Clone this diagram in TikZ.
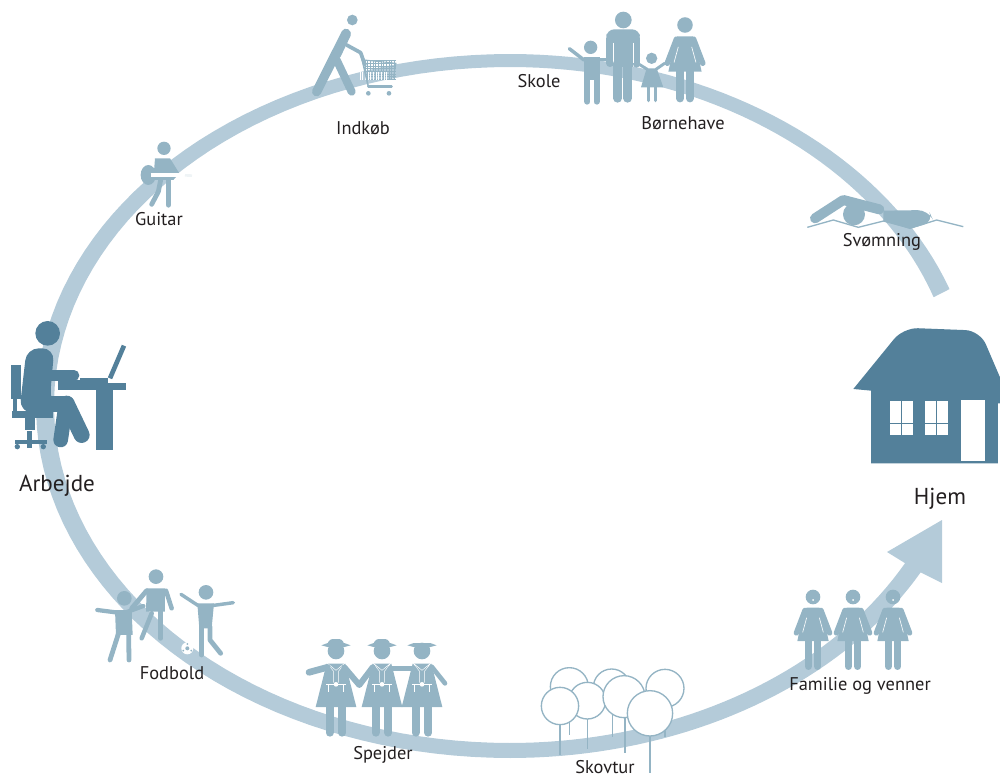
\documentclass[tikz,border=0pt]{standalone}
\usepackage{fontspec}
\setmainfont{PT Sans}
\usetikzlibrary{positioning}
\definecolor{ringblue}{HTML}{B4CBD9}
\definecolor{figureblue}{HTML}{94B4C4}
\definecolor{darkblue}{HTML}{53809A}
\definecolor{labelgray}{HTML}{231F20}
\tikzstyle{activity_label}=[text=labelgray,font=\fontsize{13.8}{15}\selectfont,inner sep=0pt]
\tikzstyle{place_label}=[text=labelgray,font=\fontsize{17.3}{19}\selectfont,inner sep=0pt]
\tikzstyle{figure_limb}=[draw=figureblue,line cap=round,line join=round]
\tikzstyle{dark_limb}=[draw=darkblue,line cap=round,line join=round]
\tikzstyle{tree_top}=[draw=figureblue,fill=white,line width=1pt]
\tikzstyle{tree_trunk}=[draw=figureblue,line width=1.1pt]

% head at (#1,#2), #3 scales the figure
\newcommand{\womanfig}[3]{
    \begin{scope}[shift={(#1,#2)},scale=#3*0.3333]
        \fill[figureblue] (0,0) circle (22);
        \fill[figureblue] (-47,132) [rounded corners=2pt] -- (-26,32) -- (26,32) [sharp corners] -- (47,132) -- cycle;
        \draw[figure_limb,line width=#3*4pt] (-24,40) -- (-50,108);
        \draw[figure_limb,line width=#3*4pt] (24,40) -- (50,108);
        \draw[white,line width=#3*.45pt] (-19,62) -- (-31,106);
        \draw[white,line width=#3*.45pt] (19,62) -- (31,106);
        \draw[figure_limb,line width=#3*5.5pt] (-14,132) -- (-14,208);
        \draw[figure_limb,line width=#3*5.5pt] (14,132) -- (14,208);
    \end{scope}
}
% head at (#1,#2)
\newcommand{\scoutfig}[2]{
    \begin{scope}[shift={(#1,#2)},scale=0.3333]
        \fill[figureblue] (0,0) circle (25);
        \fill[figureblue] (-44,-17) -- (-25,-24) -- (25,-24) -- (44,-17) -- (25,-12) -- (-25,-12) -- cycle;
        \fill[figureblue] (-28,38) -- (28,38) -- (61,168) -- (-61,168) -- cycle;
        \draw[figure_limb,line width=6pt] (-19,168) -- (-19,245);
        \draw[figure_limb,line width=6pt] (19,168) -- (19,245);
        \draw[white,line width=.35pt] (-27,36) -- (-8,60) -- (-8,95) (27,36) -- (8,60) -- (8,95) (-27,36) -- (0,58) -- (27,36);
        \draw[white,line width=.45pt] (-30,100) -- (30,100) (-22,100) -- (-22,122) (22,100) -- (22,122);
        \fill[white] (0,100) circle (7);
    \end{scope}
}

\begin{document}
\begin{tikzpicture}[x=.75pt,y=-.75pt]

    \useasboundingbox (0,0) rectangle (1000,778);

    % Ring with arrow head
    \fill[ringblue] plot[domain=19.4:90,samples=40] ({510+466*cos(\x)},{406-352*sin(\x)})
        -- plot[domain=90:270,samples=80] ({510+474*cos(\x)},{406-352*sin(\x)})
        -- plot[domain=270:331.8,samples=40] ({510+466*cos(\x)},{406-352*sin(\x)})
        -- (942,583) -- (942,520) -- (887,552)
        -- plot[domain=332.1:270,samples=40] ({510+447*cos(\x)},{405-338*sin(\x)})
        -- plot[domain=270:90,samples=80] ({510+456*cos(\x)},{405-338*sin(\x)})
        -- plot[domain=90:18.6,samples=40] ({510+447*cos(\x)},{405-338*sin(\x)})
        -- cycle;

    % Arbejde
    \begin{scope}[shift={(0,300)},scale=0.3333]
        \fill[darkblue] (143,100) circle (37);
        \fill[darkblue] (33,195) rectangle (63,297);
        \fill[darkblue] (40,297) rectangle (52,335);
        \fill[darkblue] (37,333) rectangle (158,353);
        \fill[darkblue] (75,353) rectangle (105,390);
        \fill[darkblue] (82,393) rectangle (96,443);
        \fill[darkblue] (45,420) rectangle (140,432);
        \fill[darkblue] (52,440) circle (8);
        \fill[darkblue] (130,440) circle (8);
        \fill[darkblue,rounded corners=9pt] (58,335) -- (80,145) -- (163,145) -- (150,290) -- (160,335) -- cycle;
        \draw[dark_limb,line width=8pt] (145,226) -- (222,226);
        \fill[darkblue] (175,240) rectangle (240,250);
        \draw[dark_limb,line width=12pt] (90,311) -- (200,311);
        \draw[dark_limb,line width=12pt] (200,311) -- (245,405);
        \draw[dark_limb,line width=11pt] (195,330) -- (182,420);
        \fill[darkblue] (175,250) rectangle (378,270);
        \fill[darkblue] (240,235) rectangle (325,250);
        \fill[darkblue] (288,270) rectangle (339,450);
        \draw[darkblue,line width=3.5pt] (330,235) -- (372,137);
    \end{scope}

    % Hjem
    \begin{scope}[shift={(790,180)},scale=0.3333]
        \fill[darkblue] (190,627) [rounded corners=11pt] -- (340,443) -- (570,452) [sharp corners] -- (640,615) -- (640,670) -- (624,670) -- (624,850) -- (243,850) -- (243,632) -- cycle;
        \fill[white] (300,663) rectangle (369,765);
        \fill[white] (405,663) rectangle (474,765);
        \fill[white] (513,660) rectangle (585,843);
        \draw[darkblue,line width=1pt] (334,663) -- (334,765) (300,730) -- (369,730);
        \draw[darkblue,line width=1pt] (439,663) -- (439,765) (405,730) -- (474,730);
    \end{scope}

    % Family
    \begin{scope}[shift={(500,0)},scale=0.3333]
        % boy
        \fill[figureblue] (272,142) circle (20);
        \fill[figureblue] (252,172) rectangle (300,240);
        \draw[figure_limb,line width=2.6pt] (208,146) -- (252,180);
        \draw[figure_limb,line width=2.6pt] (295,178) -- (325,178);
        \draw[figure_limb,line width=4.5pt] (262,240) -- (262,305);
        \draw[figure_limb,line width=4.5pt] (290,240) -- (290,305);
        % man
        \fill[figureblue] (370,60) circle (25);
        \fill[figureblue,rounded corners=6pt] (319,88) rectangle (420,125);
        \fill[figureblue] (340,110) rectangle (400,200);
        \draw[figure_limb,line width=5.5pt] (330,115) -- (330,190);
        \draw[figure_limb,line width=5.5pt] (409,115) -- (409,192);
        \draw[white,line width=.4pt] (340,128) -- (340,190) (399,128) -- (399,190);
        \draw[figure_limb,line width=6.5pt] (353,190) -- (353,295);
        \draw[figure_limb,line width=6.5pt] (383,190) -- (383,295);
        % girl
        \fill[figureblue] (455,175) circle (17);
        \fill[figureblue] (440,205) -- (470,205) -- (490,262) -- (423,262) -- cycle;
        \draw[figure_limb,line width=2.2pt] (442,208) -- (416,192);
        \draw[figure_limb,line width=2.2pt] (468,208) -- (494,190);
        \draw[figure_limb,line width=2.4pt] (445,262) -- (445,302);
        \draw[figure_limb,line width=2.4pt] (467,262) -- (467,302);
    \end{scope}
    \womanfig{685}{25}{1.06}

    % Familie og venner
    \foreach \headx in {813,853,893} {
        \womanfig{\headx}{597}{1}
        \fill[white] (\headx,600) circle (1);
    }

    % Indkob
    \begin{scope}[shift={(120,10)},scale=0.3333]
        \fill[figureblue] (697,30) circle (16);
        \draw[figure_limb,line width=7pt] (678,70) -- (590,245);
        \draw[figure_limb,line width=6pt] (650,150) -- (695,245);
        \draw[figure_limb,line width=6.5pt] (680,72) -- (650,135);
        \draw[figure_limb,line width=2.8pt] (680,105) -- (722,128) -- (735,165);
        \foreach \gridx in {735,743,...,825}
            \draw[figureblue,line width=.25pt] (\gridx,152) -- (\gridx,208);
        \foreach \gridy in {152,160,...,208}
            \draw[figureblue,line width=.25pt] (735,\gridy) -- (828,\gridy);
        \foreach \gridx in {720,728,...,800}
            \draw[white,line width=.35pt] (\gridx,185) -- (\gridx,210);
        \draw[figureblue,line width=.8pt] (733,150) -- (828,160) -- (820,205);
        \draw[figureblue,line width=1.2pt] (722,128) -- (745,230);
        \draw[figure_limb,line width=1.8pt] (745,230) -- (815,230);
        \fill[figureblue] (745,250) circle (7);
        \fill[figureblue] (807,250) circle (7);
    \end{scope}

    % Guitar
    \begin{scope}[shift={(120,10)},scale=0.3333]
        \fill[figureblue] (132,415) circle (20);
        \fill[figureblue] (85,495) ellipse (23 and 30);
        \fill[figureblue] (105,445) -- (150,445) -- (178,490) -- (160,510) -- (100,510) -- cycle;
        \draw[figure_limb,line width=4pt] (145,510) -- (145,585);
        \draw[figure_limb,line width=3.6pt] (122,510) -- (115,545) -- (95,583);
        \draw[white,line width=3pt] (92,496) -- (195,496);
        \draw[white!85!figureblue,line width=2pt] (195,496) -- (216,497);
    \end{scope}

    % Svomning
    \begin{scope}[shift={(790,180)},scale=0.3333]
        \fill[figureblue] (192,103) circle (33);
        \draw[figure_limb,line width=7.5pt] (75,115) -- (160,60) -- (268,88);
        \fill[figureblue] (280,92) [rounded corners=8pt] -- (415,90) -- (432,125) [sharp corners] -- (360,146) -- (280,125) -- cycle;
        \draw[figureblue,line width=1pt] (52,142) -- (130,120) -- (205,142) -- (285,122) -- (360,145) -- (440,120) -- (520,140);
    \end{scope}

    % Fodbold
    \begin{scope}[shift={(90,560)},scale=0.3333]
        \fill[figureblue] (103,115) circle (22);
        \fill[figureblue] (75,150) -- (125,150) -- (128,225) -- (78,225) -- cycle;
        \draw[figure_limb,line width=3.2pt] (22,150) -- (100,160) -- (160,138);
        \draw[figure_limb,line width=3.6pt] (85,222) -- (60,300);
        \draw[figure_limb,line width=3.6pt] (116,222) -- (117,300);
        \fill[figureblue] (198,50) circle (22);
        \fill[figureblue] (170,85) -- (225,85) -- (225,155) -- (168,155) -- cycle;
        \draw[figure_limb,line width=3.6pt] (170,92) -- (125,145);
        \draw[figure_limb,line width=3.4pt] (228,92) -- (245,145);
        \draw[figure_limb,line width=3.4pt] (185,160) -- (155,235);
        \draw[figure_limb,line width=3.6pt] (212,155) -- (212,235);
        \fill[figureblue] (348,97) circle (22);
        \fill[figureblue] (322,130) -- (372,130) -- (365,205) -- (328,205) -- cycle;
        \draw[figure_limb,line width=2.6pt] (273,103) -- (325,137);
        \draw[figure_limb,line width=2.6pt] (365,137) -- (430,128);
        \draw[figure_limb,line width=3.6pt] (335,195) -- (335,285);
        \draw[figure_limb,line width=3.6pt] (360,200) -- (360,240) -- (392,280);
        \fill[white] (292,265) circle (18);
        \fill[figureblue] (292,265) circle (6);
        \fill[figureblue] (280,272) circle (3);
        \fill[figureblue] (304,272) circle (3);
        \fill[figureblue] (292,252) circle (3);
    \end{scope}

    % Spejder
    \scoutfig{336}{651}
    \scoutfig{382}{651}
    \scoutfig{422}{651}
    \begin{scope}[shift={(290,630)},scale=0.3333]
        \fill[figureblue,rounded corners=2pt] (110,45) -- (120,27) -- (155,27) -- (165,45) -- cycle;
        \fill[figureblue,rounded corners=2pt] (248,45) -- (258,27) -- (293,27) -- (303,45) -- cycle;
        \draw[figure_limb,line width=5pt] (57,127) -- (112,112);
        \draw[figure_limb,line width=4.5pt] (163,112) -- (208,165) -- (248,112);
        \draw[figure_limb,line width=4pt] (300,116) -- (372,116);
        \draw[figure_limb,line width=3.5pt] (425,110) -- (465,160);
    \end{scope}

    % Skovtur
    \begin{scope}[shift={(530,650)},scale=0.3333]
        \draw[tree_trunk] (118,180) -- (118,255);
        \draw[tree_trunk] (247,170) -- (247,260);
        \draw[tree_trunk] (405,170) -- (405,262);
        \draw[tree_top] (118,110) circle (57);
        \draw[tree_top] (245,112) circle (55);
        \draw[tree_top] (405,115) circle (57);
        \draw[tree_trunk] (172,205) -- (172,298);
        \draw[tree_top] (172,152) circle (55);
        \draw[tree_trunk] (285,200) -- (285,308);
        \draw[tree_top] (282,140) circle (63);
        \draw[tree_trunk] (90,225) -- (90,315);
        \draw[tree_top] (90,168) circle (56);
        \draw[tree_trunk] (360,258) -- (360,368);
        \draw[tree_top] (360,190) circle (68);
    \end{scope}

    % Labels
    \node[activity_label] (indkob) at (363,128) {Indkøb};
    \node[activity_label] (skole) at (539,81) {Skole};
    \node[activity_label] (bornehave) at (683,123) {Børnehave};
    \node[activity_label] (svomning) at (882,242) {Svømning};
    \node[activity_label] (guitar) at (159,219) {Guitar};
    \node[place_label] (arbejde) at (57,485.5) {Arbejde};
    \node[place_label] (hjem) at (940,498.5) {Hjem};
    \node[activity_label] (fodbold) at (172,673) {Fodbold};
    \node[activity_label] (spejder) at (383,755) {Spejder};
    \node[activity_label] (skovtur) at (605,767) {Skovtur};
    \node[activity_label] (familie) at (860,686) {Familie og venner};

\end{tikzpicture}
\end{document}
